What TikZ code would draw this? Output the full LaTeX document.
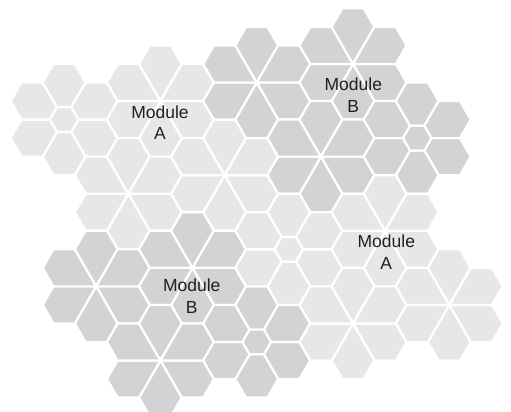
\documentclass[tikz,border=0pt]{standalone}
\usepackage{fontspec}
\setmainfont{Liberation Sans}
\definecolor{lightg}{RGB}{230,231,232}
\definecolor{darkg}{RGB}{209,211,212}
\definecolor{txt}{RGB}{35,31,32}
\tikzset{
  lightpet/.style={fill=lightg,draw=white,line width=2.2pt,line join=round},
  darkpet/.style={fill=darkg,draw=white,line width=2.2pt,line join=round},
  lbl/.style={align=center,font=\fontsize{17.5}{21.5}\selectfont,text=txt,inner sep=0pt}
}
% pointed flower: six pentagon petals meeting at the centre
\newcommand{\flowerP}[3]{%
  \begin{scope}[shift={(#1,#2)}]
    \foreach \p in {30,90,...,330}{
      \path[#3] (0,0) -- (\p-30:42.8) -- (\p-10.893:56.62) -- (\p+10.893:56.62) -- (\p+30:42.8) -- cycle;
    }
  \end{scope}}
% truncated flower: six hexagonal petals round a small hexagon
\newcommand{\flowerT}[3]{%
  \begin{scope}[shift={(#1,#2)}]
    \foreach \p in {30,90,...,330}{
      \path[#3] (\p-30:14.27) -- (\p-30:42.8) -- (\p-10.893:56.62) -- (\p+10.893:56.62) -- (\p+30:42.8) -- (\p+30:14.27) -- cycle;
    }
    \path[#3] (0:14.27) -- (60:14.27) -- (120:14.27) -- (180:14.27) -- (240:14.27) -- (300:14.27) -- cycle;
  \end{scope}}
\begin{document}
\begin{tikzpicture}[x=1pt,y=-1pt]
\useasboundingbox (0,0) rectangle (511,412);
% Module A (top left)
\flowerT{64.1}{119.57}{lightpet}
\flowerP{160.4}{101.04}{lightpet}
\flowerP{128.3}{193.7}{lightpet}
\flowerP{224.6}{175.17}{lightpet}
% Module B (top right)
\flowerP{256.7}{82.5}{darkpet}
\flowerP{353.0}{63.97}{darkpet}
\flowerP{320.9}{156.63}{darkpet}
\flowerT{417.2}{138.1}{darkpet}
% Module B (bottom left)
\flowerP{96.2}{286.36}{darkpet}
\flowerP{192.5}{267.83}{darkpet}
\flowerP{160.4}{360.49}{darkpet}
\flowerT{256.7}{341.96}{darkpet}
% Module A (bottom right)
\flowerT{288.8}{249.3}{lightpet}
\flowerP{385.1}{230.77}{lightpet}
\flowerP{353.0}{323.43}{lightpet}
\flowerP{449.3}{304.9}{lightpet}
% labels
\node[lbl] (la1) at (160,122.5) {Module\\A};
\node[lbl] (lb1) at (353.3,95.2) {Module\\B};
\node[lbl] (lb2) at (191.7,296.2) {Module\\B};
\node[lbl] (la2) at (386.3,252) {Module\\A};
\end{tikzpicture}
\end{document}
